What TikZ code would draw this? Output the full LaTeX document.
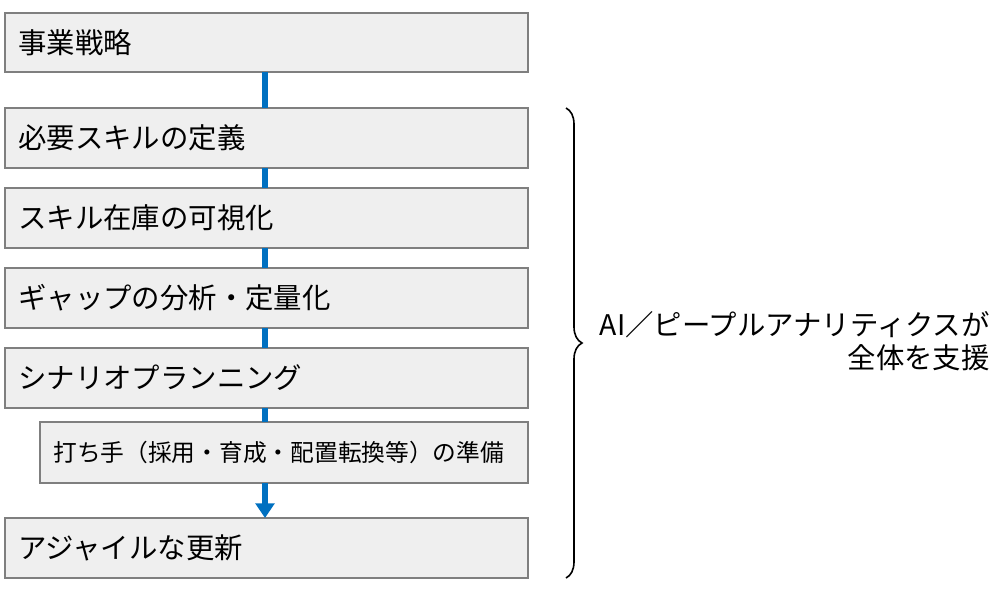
\documentclass[tikz,border=0pt]{standalone}
\usepackage{fontspec}
\setmainfont{Noto Sans CJK JP}
\usetikzlibrary{decorations.pathreplacing,arrows.meta}
\definecolor{boxfill}{HTML}{EFEFEF}
\definecolor{boxline}{HTML}{7F7F7F}
\definecolor{flow}{HTML}{0070C0}
\begin{document}
\begin{tikzpicture}[x=0.75pt,y=-0.75pt,
  stepbox/.style={draw=boxline,fill=boxfill,line width=0.8pt},
  lbl/.style={anchor=west,font=\fontsize{21.3}{24}\selectfont,inner sep=0},
  flowline/.style={draw=flow,line width=4.5pt}]
\useasboundingbox (0,0) rectangle (1000,593);
\foreach \n/\xa/\ya/\yb in {b1/5/13/72,b2/5/108/168,b3/5/188/248,b4/5/268/328,b5/5/348/408,b6/40/422/483,b7/5/518/578}{
  \path[stepbox] (\xa,\ya) rectangle (528,\yb);
  \coordinate (\n t) at (265,\ya);
  \coordinate (\n b) at (265,\yb);
}
\node[lbl] (t1) at (18,43) {事業戦略};
\node[lbl] (t2) at (18,138) {必要スキルの定義};
\node[lbl] (t3) at (18,218) {スキル在庫の可視化};
\node[lbl] (t4) at (18,298) {ギャップの分析・定量化};
\node[lbl] (t5) at (18,378) {シナリオプランニング};
\node[lbl,font=\fontsize{17.8}{20}\selectfont] (t6) at (53,452) {打ち手（採用・育成・配置転換等）の準備};
\node[lbl] (t7) at (18,548) {アジャイルな更新};
\draw[flowline] (b1b) -- (b2t);
\draw[flowline] (b2b) -- (b3t);
\draw[flowline] (b3b) -- (b4t);
\draw[flowline] (b4b) -- (b5t);
\draw[flowline] (b5b) -- (265,422);
\draw[flowline,-{Triangle[length=11pt,width=14pt]}] (b6b) -- (b7t);
\coordinate (bt) at (566,108);
\coordinate (bb) at (566,578);
\draw[line width=1.2pt,decorate,decoration={brace,amplitude=12pt}] (bt) -- (bb);
\node[anchor=east,inner sep=0,align=right,font=\fontsize{21.3}{25}\selectfont] (side) at (990,341) {AI／ピープルアナリティクスが\\全体を支援};
\end{tikzpicture}
\end{document}
